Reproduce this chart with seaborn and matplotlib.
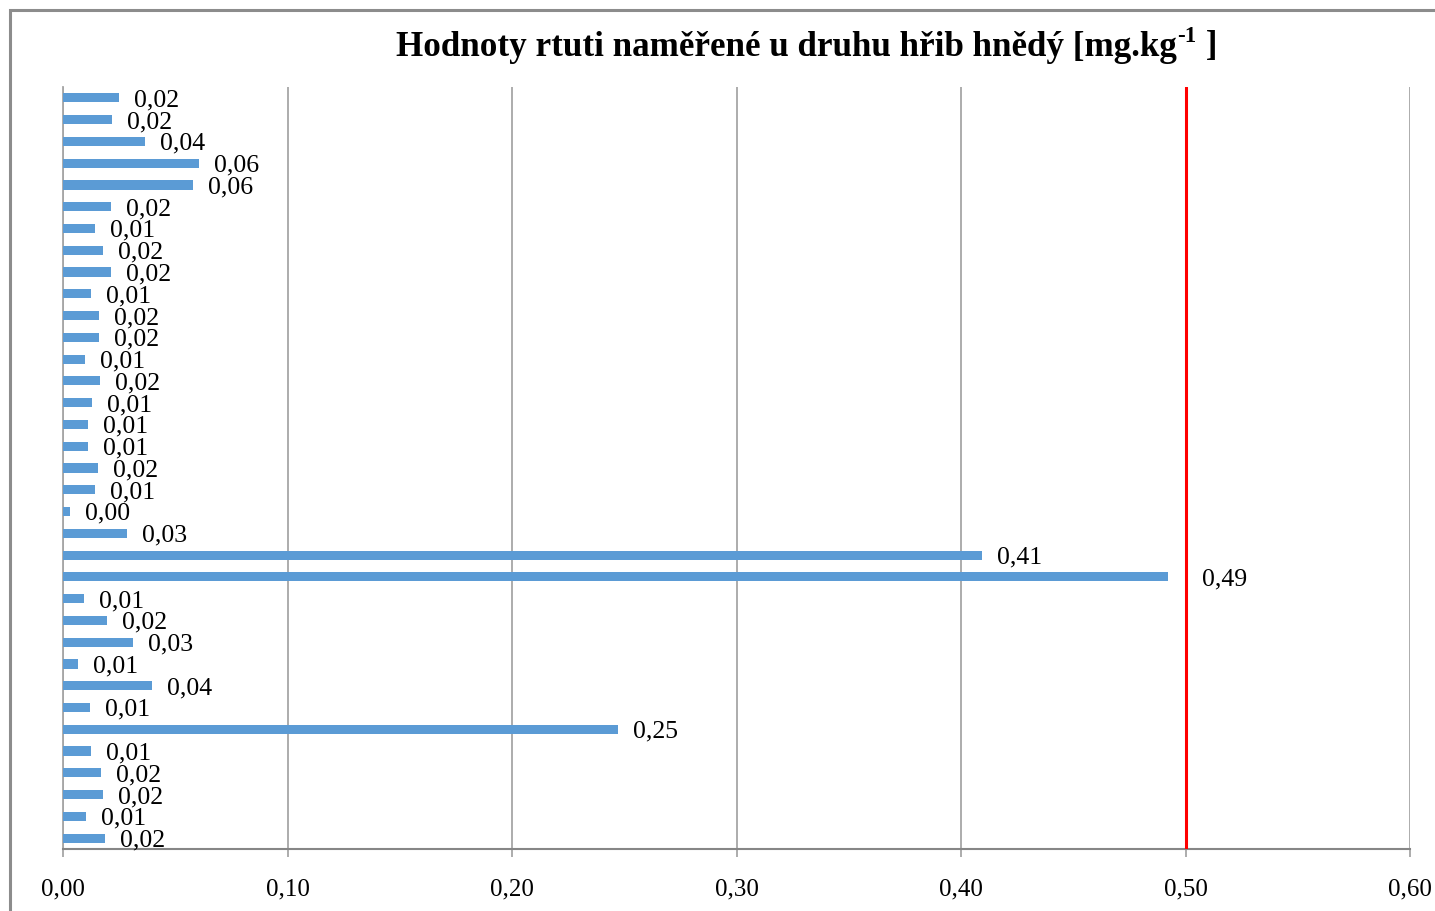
import matplotlib
matplotlib.use("Agg")
import matplotlib.pyplot as plt
import seaborn as sns
import pandas as pd
from matplotlib.patches import Rectangle

values = [0.0249, 0.022, 0.0365, 0.0606, 0.058, 0.0214, 0.0143, 0.018, 0.0214, 0.0125,
          0.016, 0.016, 0.0098, 0.0165, 0.013, 0.011, 0.011, 0.0156, 0.0143, 0.003,
          0.0285, 0.4094, 0.4922, 0.0094, 0.0196, 0.0312, 0.0067, 0.0396, 0.012, 0.2472,
          0.0125, 0.0169, 0.018, 0.0102, 0.0187]
samples = [str(i + 1) for i in range(len(values))]
limit_value = 0.50
x_ticks = [0.0, 0.1, 0.2, 0.3, 0.4, 0.5, 0.6]
title_main = "Hodnoty rtuti naměřené u druhu hřib hnědý [mg.kg"
title_sup = "-1"
title_end = " ]"

df = pd.DataFrame({"sample": samples, "value": values})

sns.set_theme(style="white")
plt.rcParams["font.family"] = ["Liberation Serif", "DejaVu Serif"]
plt.rcParams["text.color"] = "black"
plt.rcParams["xtick.color"] = "black"

fig = plt.figure(figsize=(14.35, 9.12), dpi=100)
ax = fig.add_axes([63 / 1435, 1 - 850 / 912, (1410 - 63) / 1435, (850 - 88) / 912])

sns.barplot(data=df, x="value", y="sample", orient="h", color="#5B9BD5",
            saturation=1, width=0.42, linewidth=0, ax=ax, zorder=3)

ax.set_xlim(0, 0.6)
ax.set_ylim(len(values) - 0.5, -0.5)
ax.set_xticks(x_ticks)
ax.set_xticklabels([f"{t:.2f}".replace(".", ",") for t in x_ticks], fontsize=18)
ax.set_yticks([])
ax.set_xlabel("")
ax.set_ylabel("")
ax.grid(axis="x", color="#A6A6A6", linewidth=1.3, zorder=0)
ax.grid(axis="y", visible=False)
for s in ["top", "right"]:
    ax.spines[s].set_visible(False)
ax.spines["left"].set_color("#A6A6A6")
ax.spines["left"].set_linewidth(1.3)
ax.spines["bottom"].set_color("#868686")
ax.spines["bottom"].set_linewidth(1.5)
ax.tick_params(axis="x", direction="out", length=6, width=1.3, color="#A6A6A6",
               labelcolor="black", pad=14.5, bottom=True)

ax.axvline(limit_value, color="#FF0000", linewidth=2.2, zorder=4)

for i, v in enumerate(values):
    off = 24.5 if v > 0.45 else 10.8
    ax.annotate(f"{v:.2f}".replace(".", ","), xy=(v, i), xytext=(off, -1),
                textcoords="offset points", va="center", ha="left", fontsize=18.5,
                color="black", zorder=5)

# Title with superscript, centred as a whole
renderer = fig.canvas.get_renderer()
ty = 1 - 47 / 912
t1 = fig.text(0, ty, title_main, ha="left", va="center", fontsize=25.2, fontweight="bold")
t2 = fig.text(0, ty + 10 / 912, title_sup, ha="left", va="center", fontsize=16.5, fontweight="bold")
t3 = fig.text(0, ty, title_end, ha="left", va="center", fontsize=25.2, fontweight="bold")
w1 = t1.get_window_extent(renderer).width
w2 = t2.get_window_extent(renderer).width
w3 = t3.get_window_extent(renderer).width
total = w1 + w2 + w3
x0 = 806 - total / 2
t1.set_x(x0 / 1435)
t2.set_x((x0 + w1 + 1) / 1435)
t3.set_x((x0 + w1 + w2 + 1) / 1435)

fig.patches.append(Rectangle((9.5 / 1435, -0.1), 2.0, (912 - 11) / 912 + 0.1,
                             transform=fig.transFigure, fill=False,
                             edgecolor="#8C8C8C", linewidth=2.2, clip_on=False))

fig.savefig("out.png", dpi=100)
